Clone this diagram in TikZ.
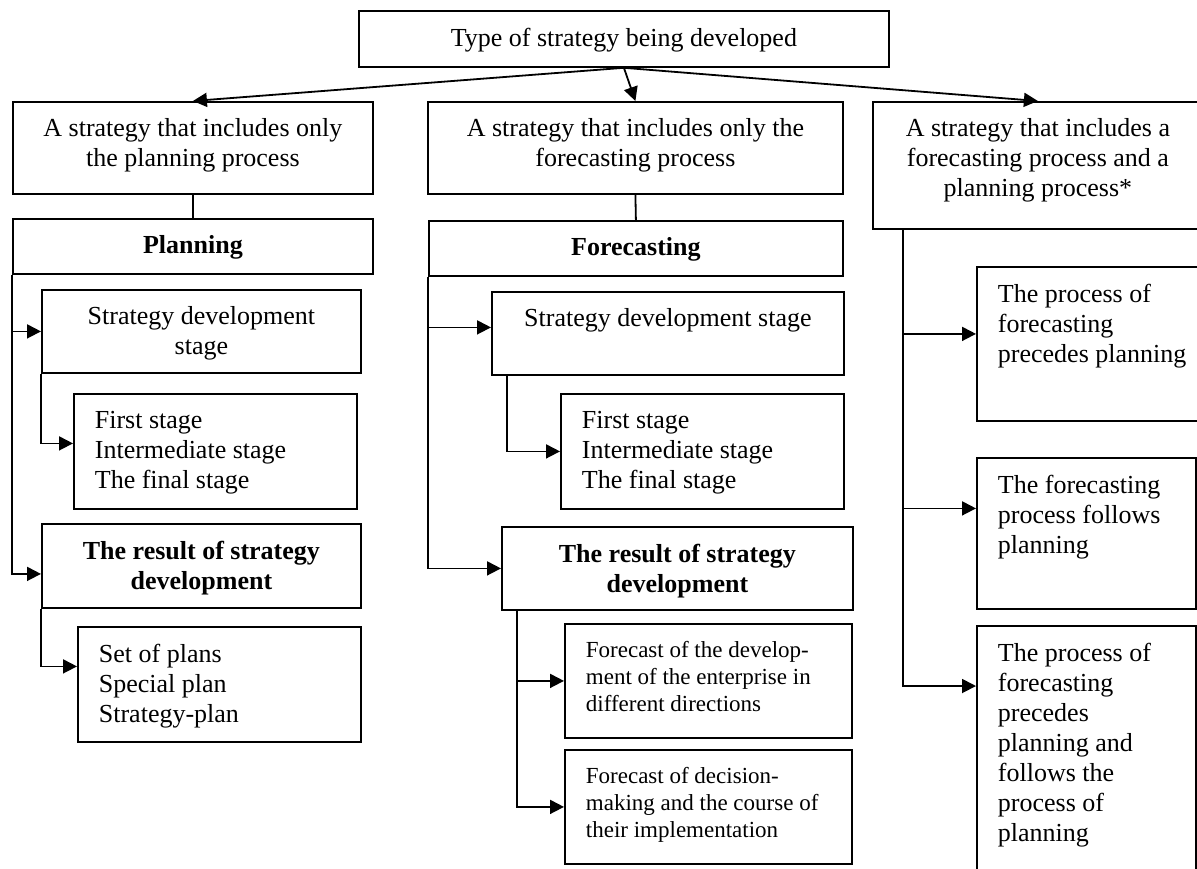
\documentclass[tikz,border=0pt]{standalone}
\usepackage{fontspec}
\setmainfont{Liberation Serif}
\usetikzlibrary{arrows.meta}
\newcommand{\boxfont}{\fontsize{13}{15}\selectfont}
\newcommand{\notefont}{\fontsize{11.5}{13.5}\selectfont}
\newcommand{\topcell}[3]{\parbox[c][#2][t]{#1}{\vspace*{1.5pt}#3}}
\tikzset{
  box/.style={draw, line width=0.9pt, anchor=north west, inner xsep=0pt, inner ysep=7pt, font=\boxfont},
  lbox/.style={box, inner xsep=10.5pt},
  arr/.style={line width=0.9pt, -{Triangle[length=7pt,width=7pt]}},
  con/.style={line width=0.9pt},
}

\begin{document}
\begin{tikzpicture}[x=0.5pt, y=-0.5pt]
  \useasboundingbox (0,0) rectangle (1197,868);
  \clip (0,0) rectangle (1197,868);

  % Top
  \node[box] (top) at (358,10) {\topcell{265pt}{14pt}{\centering Type of strategy being developed}};

  % Three kinds of strategy
  \node[box] (plan1) at (12,101) {\topcell{180pt}{32pt}{\centering A strategy that includes only\\the planning process}};
  \node[box] (fore1) at (427,101) {\topcell{207.5pt}{32pt}{\centering A strategy that includes only the\\forecasting process}};
  \node[box] (both1) at (872,101) {\topcell{165pt}{49.5pt}{\centering A strategy that includes a\\forecasting process and a\\planning process*}};

  % Planning column
  \node[box] (plan2) at (12,218) {\topcell{180pt}{13.5pt}{\centering\bfseries Planning}};
  \node[box] (plan3) at (41,289) {\topcell{159.5pt}{27.5pt}{\centering Strategy development\\stage}};
  \node[lbox] (plan4) at (73,393) {\topcell{120.5pt}{43.5pt}{\raggedright First stage\\Intermediate stage\\The final stage}};
  \node[box] (plan5) at (41,523) {\topcell{159.5pt}{28pt}{\centering\bfseries The result of strategy\\development}};
  \node[lbox] (plan6) at (77,626) {\topcell{120.5pt}{43.5pt}{\raggedright Set of plans\\Special plan\\Strategy-plan}};

  % Forecasting column
  \node[box] (fore2) at (428,220) {\topcell{207pt}{13.5pt}{\centering\bfseries Forecasting}};
  \node[box] (fore3) at (491,291) {\topcell{176pt}{27.5pt}{\centering Strategy development stage}};
  \node[lbox] (fore4) at (560,393) {\topcell{120.5pt}{43.5pt}{\raggedright First stage\\Intermediate stage\\The final stage}};
  \node[box] (fore5) at (501,526) {\topcell{175.5pt}{27.5pt}{\centering\bfseries The result of strategy\\development}};
  \node[lbox, font=\notefont] (fore6) at (564,623) {\topcell{122.5pt}{43pt}{\raggedright Forecast of the develop-\\ment of the enterprise in\\different directions}};
  \node[lbox, font=\notefont] (fore7) at (564,749) {\topcell{122.5pt}{43pt}{\raggedright Forecast of decision-\\making and the course of\\their implementation}};

  % Combined column
  \node[lbox] (both2) at (976,266) {\topcell{99pt}{63pt}{\raggedright The process of\\forecasting\\precedes planning}};
  \node[lbox] (both3) at (976,457) {\topcell{88.5pt}{61.5pt}{\raggedright The forecasting\\process follows\\planning}};
  \node[lbox] (both4) at (976,625) {\topcell{88.5pt}{116pt}{\raggedright The process of\\forecasting\\precedes\\planning and\\follows the\\process of\\planning}};

  % Connectors
  \draw[arr] (top.south) -- (plan1.north);
  \draw[arr] (top.south) -- (fore1.north);
  \draw[arr] (top.south) -- (both1.north);

  \draw[con] (plan1.south) -- (plan2.north);
  \draw[arr] (plan2.south west) |- (plan3.west);
  \draw[arr] (plan2.south west) |- ([yshift=-4pt]plan5.west);
  \draw[arr] (plan3.south west) |- ([yshift=4pt]plan4.west);
  \draw[arr] (plan5.south west) |- ([yshift=9pt]plan6.west);

  \draw[con] (fore1.south) -- (fore2.north);
  \draw[arr] (fore2.south west) |- ([yshift=3pt]fore3.west);
  \draw[arr] (fore2.south west) |- (fore5.west);
  \draw[arr] ([xshift=8pt]fore3.south west) |- (fore4.west);
  \draw[arr] ([xshift=8pt]fore5.south west) |- (fore6.west);
  \draw[arr] ([xshift=8pt]fore5.south west) |- (fore7.west);

  \draw[arr] ([xshift=15.5pt]both1.south west) |- ([yshift=5pt]both2.west);
  \draw[arr] ([xshift=15.5pt]both1.south west) |- ([yshift=12.5pt]both3.west);
  \draw[arr] ([xshift=15.5pt]both1.south west) |- ([yshift=-30.5pt]both4.north west);
\end{tikzpicture}
\end{document}
